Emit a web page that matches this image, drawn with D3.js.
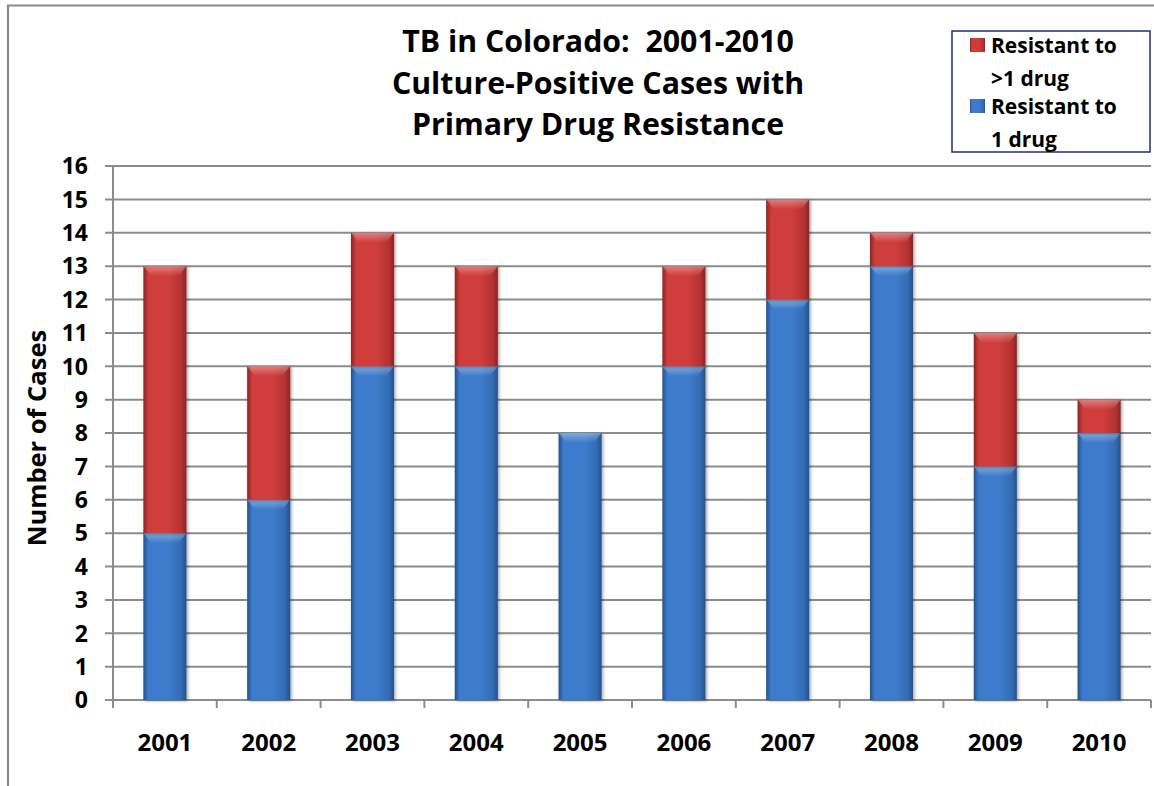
<!DOCTYPE html>
<html><head><meta charset="utf-8">
<script src="https://cdn.jsdelivr.net/npm/d3@7"></script>
<style>body{margin:0;background:#fff}svg{display:block;font-family:"Open Sans",Lato,sans-serif;font-weight:bold}text{white-space:pre}</style>
</head><body><svg id="c" width="1154" height="786"></svg>
<script>
const years = ["2001","2002","2003","2004","2005","2006","2007","2008","2009","2010"];
const oneDrug = [5,6,10,10,8,10,12,13,7,8];
const multiDrug = [8,4,4,3,0,3,3,1,4,1];
const yTicks = [0,1,2,3,4,5,6,7,8,9,10,11,12,13,14,15,16];
const titleLines = ["TB in Colorado:  2001-2010","Culture-Positive Cases with","Primary Drug Resistance"];
const legendItems = [{key:"multi",lines:["Resistant to",">1 drug"]},{key:"one",lines:["Resistant to","1 drug"]}];

(function(){
const svg = d3.select("#c");
const defs = svg.append("defs");
function grad(id, edge, mid){
  const g = defs.append("linearGradient").attr("id",id).attr("x1","0").attr("x2","1").attr("y1","0").attr("y2","0");
  g.append("stop").attr("offset","0").attr("stop-color",edge);
  g.append("stop").attr("offset","0.12").attr("stop-color",mid);
  g.append("stop").attr("offset","0.6").attr("stop-color",mid);
  g.append("stop").attr("offset","0.88").attr("stop-color",d3.interpolateRgb(mid,edge)(0.4));
  g.append("stop").attr("offset","1").attr("stop-color",edge);
}
grad("gBlue","#24528e","#3d7ccc");
grad("gRed","#8e2424","#cf3c3c");
const hl = defs.append("linearGradient").attr("id","hl").attr("x1","0").attr("x2","0").attr("y1","0").attr("y2","1");
hl.append("stop").attr("offset","0").attr("stop-color","#fff").attr("stop-opacity",0.35);
hl.append("stop").attr("offset","1").attr("stop-color","#fff").attr("stop-opacity",0);
const sh = defs.append("filter").attr("id","sh").attr("x","-20%").attr("y","-5%").attr("width","140%").attr("height","110%");
sh.append("feDropShadow").attr("dx",1.5).attr("dy",1).attr("stdDeviation",1.5).attr("flood-color","#000").attr("flood-opacity",0.35);

svg.append("path").attr("d","M8,786 V5.5 H1154").attr("fill","none").attr("stroke","#8a8a8a").attr("stroke-width",2.2);

const pL=113, pR=1151, pT=166, pB=700;
const x = d3.scaleBand().domain(years).range([pL,pR]).paddingInner(0.585).paddingOuter(0.2925);
const y = d3.scaleLinear().domain([0,16]).range([pB,pT]);

svg.append("g").selectAll("line").data(yTicks).join("line")
  .attr("x1",pL-8).attr("x2",pR).attr("y1",d=>y(d)).attr("y2",d=>y(d))
  .attr("stroke","#8c8c8c").attr("stroke-width",2);
svg.append("line").attr("x1",pL).attr("x2",pL).attr("y1",pT).attr("y2",pB+1).attr("stroke","#8c8c8c").attr("stroke-width",2);
const step = (pR-pL)/years.length;
svg.append("g").selectAll("line").data(d3.range(years.length+1)).join("line")
  .attr("x1",i=>pL+i*step).attr("x2",i=>pL+i*step).attr("y1",pB).attr("y2",pB+8)
  .attr("stroke","#8c8c8c").attr("stroke-width",2);

svg.append("g").selectAll("text").data(yTicks).join("text")
  .attr("x",88).attr("y",d=>y(d)).attr("dy","0.36em").attr("text-anchor","end")
  .attr("font-size",23).text(d=>d);
svg.append("g").selectAll("text").data(years).join("text")
  .attr("x",d=>x(d)+x.bandwidth()/2).attr("y",742).attr("dy","0.36em").attr("text-anchor","middle")
  .attr("font-size",24).text(d=>d);
svg.append("text").attr("transform","translate(37,438) rotate(-90)").attr("text-anchor","middle").attr("dy","0.36em")
  .attr("font-size",25.5).text("Number of Cases");

const stackData = years.map((yr,i)=>({yr, one:oneDrug[i], multi:multiDrug[i]}));
const series = d3.stack().keys(["one","multi"])(stackData);
const fills = {one:"url(#gBlue)", multi:"url(#gRed)"};
const bars = svg.append("g");
series.forEach(s=>{
  const g = bars.append("g");
  s.forEach(d=>{
    const h = y(d[0]) - y(d[1]);
    if(h<=0) return;
    const bx = x(d.data.yr), bw = x.bandwidth(), by = y(d[1]);
    g.append("rect").attr("x",bx).attr("y",by).attr("width",bw).attr("height",h).attr("fill",fills[s.key]).attr("filter","url(#sh)");
    const bev = Math.min(10,h/2);
    g.append("path").attr("d",`M${bx},${by} H${bx+bw} L${bx+bw-8},${by+bev} H${bx+8} Z`).attr("fill","url(#hl)");
  });
});

const title = svg.append("text").attr("text-anchor","middle").attr("font-size",30.3);
title.selectAll("tspan").data(titleLines).join("tspan")
  .attr("x",598).attr("y",(d,i)=>41.5+i*41.5).attr("dy","0.36em").text(d=>d);

const lg = svg.append("g");
lg.append("rect").attr("x",952).attr("y",31).attr("width",198).attr("height",121).attr("fill","#fff").attr("stroke","#1f2f6e").attr("stroke-width",1.5);
const legFill = {multi:"url(#gRed)", one:"url(#gBlue)"};
const rowY = [[45,78],[106,139]];
legendItems.forEach((it,i)=>{
  lg.append("rect").attr("x",970).attr("y",rowY[i][0]-7).attr("width",15).attr("height",14).attr("fill",legFill[it.key]);
  const t = lg.append("text").attr("font-size",21);
  t.selectAll("tspan").data(it.lines).join("tspan")
    .attr("x",991).attr("y",(d,j)=>rowY[i][j]).attr("dy","0.36em").text(d=>d);
});
})();
</script></body></html>
